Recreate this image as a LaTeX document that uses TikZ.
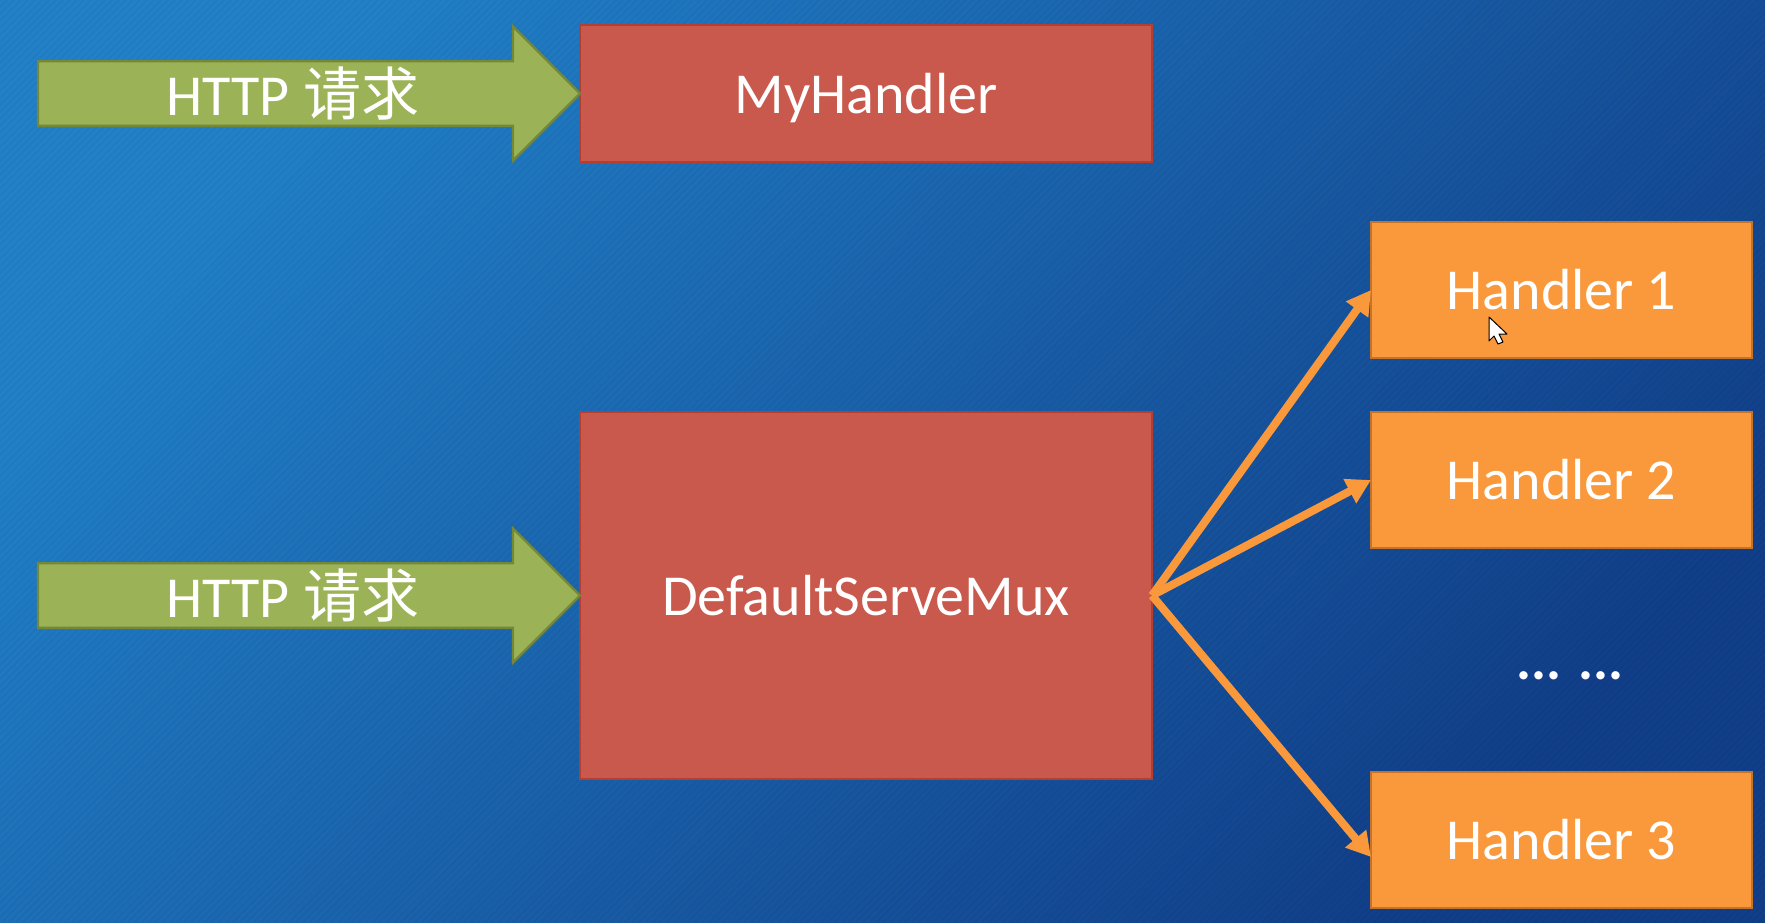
\documentclass[tikz,border=0pt]{standalone}
\usepackage{fontspec}
\setmainfont{Carlito}
\newfontfamily\cjk{Noto Sans CJK SC}
\usepackage{xcolor}
\usetikzlibrary{arrows.meta,shapes.arrows}
\definecolor{bgLight}{HTML}{2180C8}
\definecolor{bgMid}{HTML}{1B5CAD}
\definecolor{bgDark}{HTML}{113E88}
\definecolor{redFill}{HTML}{C9594C}
\definecolor{redEdge}{HTML}{B43F30}
\definecolor{greenFill}{HTML}{9BB356}
\definecolor{greenEdge}{HTML}{748838}
\definecolor{orangeFill}{HTML}{FA983C}
\definecolor{orangeEdge}{HTML}{C4742A}
\newcommand{\labelSize}{\fontsize{29}{34}\selectfont}
\newcommand{\dotsSize}{\fontsize{28}{34}\selectfont}
\tikzset{
	muxbox/.style={rectangle,draw=redEdge,line width=1.2pt,fill=redFill,text=white,outer sep=0pt,minimum width=286pt,text depth=0pt,font=\labelSize},
	handlerbox/.style={rectangle,draw=orangeEdge,line width=1.2pt,fill=orangeFill,text=white,outer sep=0pt,minimum width=190.5pt,minimum height=68pt,font=\labelSize},
	requestarrow/.style={single arrow,draw=greenEdge,line width=1.2pt,fill=greenFill,text=white,outer sep=0pt,inner sep=0pt,single arrow head extend=15pt,minimum width=67pt,minimum height=271pt,anchor=tip,font=\labelSize},
	routeline/.style={draw=orangeFill,line width=4pt,-{Triangle[length=12pt,width=13pt]}},
}

\begin{document}
\begin{tikzpicture}[x=0.5pt,y=-0.5pt]
	\useasboundingbox (0,0) rectangle (1765,922);
	\shade[left color=bgLight,middle color=bgMid,right color=bgDark,shading angle=48] (0,0) rectangle (1765,922);

	% diagonal streaks of the slide background
	\begin{scope}
		\clip (0,0) rectangle (1765,922);
		\foreach \i in {0,7,...,2690} {
			\draw[black,opacity=0.04,line width=0.7pt] (\i,0) -- (\i-922,922);
		}
	\end{scope}

	\node[muxbox,minimum height=68.5pt] (myHandler) at (866,93.5) {MyHandler};
	\node[muxbox,minimum height=183.5pt] (serveMux) at (866,595.5) {DefaultServeMux};

	\node[requestarrow] (requestA) at (myHandler.west) {HTTP {\cjk 请求}};
	\node[requestarrow] (requestB) at (serveMux.west) {HTTP {\cjk 请求}};

	\node[handlerbox] (handlerA) at (1561.5,290) {Handler 1};
	\node[handlerbox] (handlerB) at (1561.5,480) {Handler 2};
	\node[handlerbox] (handlerC) at (1561.5,840) {Handler 3};
	\node[text=white,font=\dotsSize\bfseries] (handlerDots) at (1570,676) {... ...};

	\coordinate (handlerCIn) at ([yshift=-8.5pt]handlerC.west);
	\draw[routeline] (serveMux.east) -- (handlerA.west);
	\draw[routeline] (serveMux.east) -- (handlerB.west);
	\draw[routeline] (serveMux.east) -- (handlerCIn);

	% mouse pointer left in the screenshot
	\draw[fill=white,draw=black,line width=0.5pt,line join=round] (1489,317) -- (1489,341) -- (1494,336) -- (1498,344) -- (1503,342) -- (1499,334) -- (1507,334) -- cycle;
\end{tikzpicture}
\end{document}
